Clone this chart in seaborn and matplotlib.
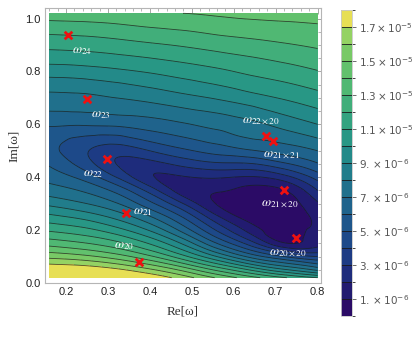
import numpy as np
import matplotlib
matplotlib.use('Agg')
import matplotlib.pyplot as plt
import matplotlib.tri as mtri
from matplotlib.cm import ScalarMappable
from matplotlib.colors import ListedColormap, BoundaryNorm
from matplotlib.ticker import MultipleLocator
import seaborn as sns

# field (units of 1e-6), one list per Im[w] row
re_grid = [0.16, 0.24, 0.32, 0.40, 0.48, 0.56, 0.64, 0.72, 0.80]
im_grid = [0.02, 0.06, 0.10, 0.15, 0.20, 0.25, 0.30, 0.35, 0.40, 0.45,
           0.50, 0.60, 0.70, 0.80, 0.90, 1.02]

row_002 = [19.2, 19.0, 18.6, 17.8, 16.5, 14.9, 13.4, 12.1, 11.0]
row_006 = [17.5, 17.3, 16.7, 15.6, 14.0, 12.0, 10.0, 8.3, 6.9]
row_010 = [15.7, 15.3, 14.5, 13.2, 11.3, 9.0, 6.7, 5.0, 4.0]
row_015 = [13.6, 13.1, 12.3, 10.9, 8.8, 6.0, 3.5, 1.1, 1.7]
row_020 = [11.85, 11.35, 10.4, 8.9, 6.6, 3.9, 1.6, 0.6, 1.3]
row_025 = [10.3, 9.7, 8.7, 7.1, 4.9, 2.2, 0.55, 0.25, 1.4]
row_030 = [8.75, 8.1, 7.1, 5.3, 3.0, 0.95, 0.35, 0.45, 1.9]
row_035 = [7.5, 6.9, 5.7, 3.6, 1.5, 1.1, 0.7, 0.95, 3.0]
row_040 = [6.6, 5.7, 4.0, 2.15, 1.9, 2.1, 1.9, 2.6, 4.4]
row_045 = [5.9, 4.6, 3.0, 2.6, 3.3, 3.8, 3.9, 4.8, 5.9]
row_050 = [5.3, 4.2, 3.4, 4.0, 4.8, 5.4, 5.9, 6.4, 7.0]
row_060 = [6.15, 6.1, 6.2, 6.5, 6.9, 7.3, 7.75, 8.35, 9.0]
row_070 = [7.7, 7.76, 8.0, 8.3, 8.7, 9.1, 9.6, 10.1, 10.6]
row_080 = [9.45, 9.56, 9.8, 10.1, 10.45, 10.8, 11.2, 11.55, 11.95]
row_090 = [11.3, 11.4, 11.6, 11.85, 12.1, 12.4, 12.65, 12.9, 13.15]
row_102 = [13.55, 13.6, 13.7, 13.9, 14.0, 14.15, 14.3, 14.35, 14.4]

# quasinormal modes marked with red crosses
mode_labels = [r'$\omega_{24}$', r'$\omega_{23}$', r'$\omega_{22}$', r'$\omega_{21}$',
               r'$\omega_{20}$', r'$\omega_{22\times20}$', r'$\omega_{21\times21}$',
               r'$\omega_{21\times20}$', r'$\omega_{20\times20}$']
mode_re = [0.205, 0.250, 0.298, 0.343, 0.374, 0.676, 0.693, 0.721, 0.748]
mode_im = [0.936, 0.695, 0.470, 0.263, 0.079, 0.556, 0.537, 0.353, 0.169]
label_re = [0.238, 0.283, 0.264, 0.383, 0.338, 0.664, 0.714, 0.710, 0.729]
label_im = [0.876, 0.635, 0.414, 0.267, 0.139, 0.613, 0.485, 0.298, 0.113]

cbar_ticks = [1, 3, 5, 7, 9, 11, 13, 15, 17]
cbar_labels = [r'$1.\times10^{-6}$', r'$3.\times10^{-6}$', r'$5.\times10^{-6}$',
               r'$7.\times10^{-6}$', r'$9.\times10^{-6}$', r'$1.1\times10^{-5}$',
               r'$1.3\times10^{-5}$', r'$1.5\times10^{-5}$', r'$1.7\times10^{-5}$']

band_colors = ['#2b0b66', '#221b70', '#1e2c7c', '#1d3b84', '#1d4989', '#1e568b',
               '#1f638c', '#20708c', '#217d8b', '#238a89', '#289785', '#33a380',
               '#41ae7a', '#50b873', '#62c16d', '#78c966', '#94d263', '#e7df55']

sns.set_style('white')
plt.rcParams['font.family'] = ['Liberation Sans', 'DejaVu Sans']

fig = plt.figure(figsize=(4.15, 3.37), dpi=100)
ax = fig.add_axes([0.1084, 0.1602, 0.665, 0.8161])

Z = np.array([row_002, row_006, row_010, row_015, row_020, row_025, row_030,
              row_035, row_040, row_045, row_050, row_060, row_070, row_080,
              row_090, row_102])
X, Y = np.meshgrid(re_grid, im_grid)
ny, nx = Z.shape
cells = []
for j in range(ny - 1):
    for i in range(nx - 1):
        a = j * nx + i
        cells.append([a, a + 1, a + nx])
        cells.append([a + 1, a + nx + 1, a + nx])
triang = mtri.Triangulation(X.ravel(), Y.ravel(), triangles=cells)
tri_f, z_f = mtri.UniformTriRefiner(triang).refine_field(Z.ravel(), subdiv=4)

fill_levels = [-10] + list(range(1, 18)) + [100]
ax.tricontourf(tri_f, z_f, levels=fill_levels, colors=band_colors)
ax.tricontour(tri_f, z_f, levels=list(range(1, 18)), colors='#1a1a1a',
              linewidths=0.6, alpha=0.75)

sns.scatterplot(x=mode_re, y=mode_im, marker='x', color='#ee1111', s=30,
                linewidth=2.0, ax=ax, zorder=5)
for lab, lx, ly in zip(mode_labels, label_re, label_im):
    ax.text(lx, ly, lab, color='white', fontsize=9.5, ha='center', va='center',
            math_fontfamily='stix', zorder=6)

ax.set_xlim(0.15, 0.808)
ax.set_ylim(0.0, 1.04)
ax.xaxis.set_minor_locator(MultipleLocator(0.02))
ax.yaxis.set_minor_locator(MultipleLocator(0.05))
ax.tick_params(which='both', direction='in', top=True, right=True,
               color='#999999', labelsize=8, labelcolor='#222222', pad=3)
ax.tick_params(which='major', length=4, width=0.6)
ax.tick_params(which='minor', length=2, width=0.5)
ax.set_xticks([0.2, 0.3, 0.4, 0.5, 0.6, 0.7, 0.8])
ax.set_xticklabels(['0.2', '0.3', '0.4', '0.5', '0.6', '0.7', '0.8'])
ax.set_yticks([0.0, 0.2, 0.4, 0.6, 0.8, 1.0])
ax.set_yticklabels(['0.0', '0.2', '0.4', '0.6', '0.8', '1.0'])
for sp in ax.spines.values():
    sp.set_color('#b5b5b5')
    sp.set_linewidth(0.8)
ax.set_xlabel('Re[ω]', fontsize=9.5, family=['Liberation Serif', 'DejaVu Serif'],
              color='#333333', labelpad=6)
ax.set_ylabel('Im[ω]', fontsize=9.5, family=['Liberation Serif', 'DejaVu Serif'],
              color='#333333', labelpad=4)

cax = fig.add_axes([0.822, 0.062, 0.027, 0.908])
cmap = ListedColormap(band_colors)
norm = BoundaryNorm(list(range(0, 19)), cmap.N)
cb = fig.colorbar(ScalarMappable(norm=norm, cmap=cmap), cax=cax,
                  ticks=cbar_ticks, drawedges=True)
cb.dividers.set_color('#1a1a1a')
cb.dividers.set_linewidth(0.6)
cb.outline.set_edgecolor('#c8c8c8')
cb.outline.set_linewidth(0.6)
cb.ax.set_yticklabels(cbar_labels)
cb.ax.tick_params(length=3, width=0.6, color='#555555', labelsize=7.5,
                  labelcolor='#555555', pad=2)

fig.savefig('out.png', dpi=100)
